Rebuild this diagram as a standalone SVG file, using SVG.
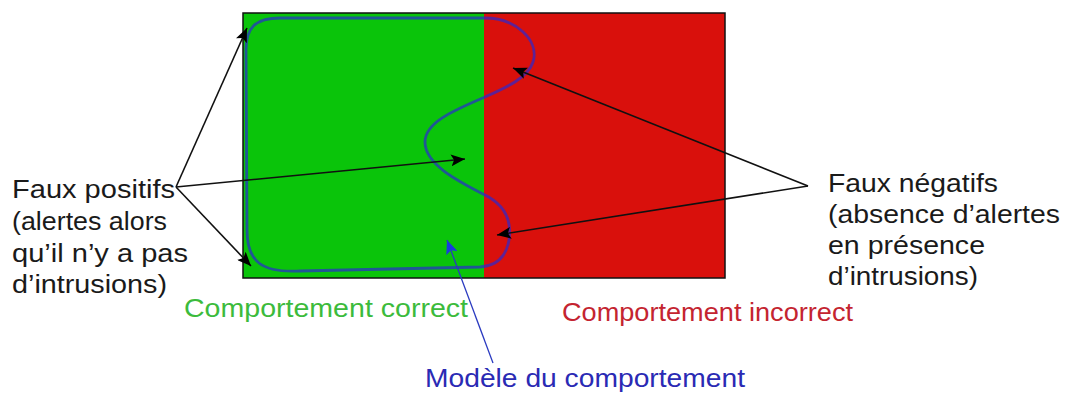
<svg xmlns="http://www.w3.org/2000/svg" width="1067" height="394" viewBox="0 0 1067 394">
<style>
text{font-family:"Liberation Sans",Arial,sans-serif;font-size:26.5px}
.lbl{fill:#1a1a1a}
.conn{stroke:#111;stroke-width:1.6;fill:none}
</style>
<defs>
<marker id="ah" markerUnits="userSpaceOnUse" markerWidth="16" markerHeight="12" refX="14" refY="6" orient="auto">
<path d="M0,0 L14,6 L0,12 L3,6 Z" fill="#000"/>
</marker>
<marker id="ahb" markerUnits="userSpaceOnUse" markerWidth="16" markerHeight="12" refX="14" refY="6" orient="auto">
<path d="M0,0 L14,6 L0,12 L3,6 Z" fill="#1a3ae0"/>
</marker>
</defs>
<rect width="1067" height="394" fill="#fff"/>
<g id="zone-correct">
<rect x="243" y="13" width="241" height="265" fill="#0ac40a"/>
</g>
<g id="zone-incorrect">
<rect x="484" y="13" width="241" height="265" fill="#d9100c"/>
</g>
<rect x="243" y="13" width="482" height="265" fill="none" stroke="#111" stroke-width="1.5"/>
<g id="modele">
<path d="M485,18 C515,18 540,40 533,62 C528,78 505,88 485,97 C455,110 425,122 425,142 C425,165 460,182 485,195 C505,205 512,220 509,240 C506,258 495,266 480,267 L300,271 C262,273 247,262 247,230 L246,50 C246,28 255,18 280,18 Z" fill="none" stroke="#2a2ad0" stroke-opacity="0.7" stroke-width="2.8"/>
</g>
<g id="connectors">
<line class="conn" x1="176" y1="187" x2="247" y2="28" marker-end="url(#ah)"/>
<line class="conn" x1="176" y1="187" x2="465" y2="159" marker-end="url(#ah)"/>
<line class="conn" x1="176" y1="187" x2="251" y2="266" marker-end="url(#ah)"/>
<line class="conn" x1="808" y1="186" x2="513" y2="68" marker-end="url(#ah)"/>
<line class="conn" x1="808" y1="186" x2="497" y2="235" marker-end="url(#ah)"/>
<line x1="493" y1="363" x2="447" y2="240" stroke="#2a3ac0" stroke-width="1.3" marker-end="url(#ahb)"/>
</g>
<g id="faux-positifs">
<text class="lbl" x="12" y="198" textLength="163" lengthAdjust="spacingAndGlyphs">Faux positifs</text>
<text class="lbl" x="12" y="230" textLength="155" lengthAdjust="spacingAndGlyphs">(alertes alors</text>
<text class="lbl" x="12" y="262" textLength="176" lengthAdjust="spacingAndGlyphs">qu’il n’y a pas</text>
<text class="lbl" x="12" y="293" textLength="155" lengthAdjust="spacingAndGlyphs">d’intrusions)</text>
</g>
<g id="faux-negatifs">
<text class="lbl" x="828" y="192" textLength="170" lengthAdjust="spacingAndGlyphs">Faux négatifs</text>
<text class="lbl" x="828" y="223" textLength="232" lengthAdjust="spacingAndGlyphs">(absence d’alertes</text>
<text class="lbl" x="828" y="254" textLength="157" lengthAdjust="spacingAndGlyphs">en présence</text>
<text class="lbl" x="828" y="285" textLength="150" lengthAdjust="spacingAndGlyphs">d’intrusions)</text>
</g>
<g id="label-correct">
<text x="184" y="317" fill="#3cbb3c" textLength="284" lengthAdjust="spacingAndGlyphs">Comportement correct</text>
</g>
<g id="label-incorrect">
<text x="562" y="321" fill="#c42430" textLength="291" lengthAdjust="spacingAndGlyphs">Comportement incorrect</text>
</g>
<g id="label-modele">
<text x="425" y="387" fill="#2a2ab4" textLength="320" lengthAdjust="spacingAndGlyphs">Modèle du comportement</text>
</g>
</svg>
